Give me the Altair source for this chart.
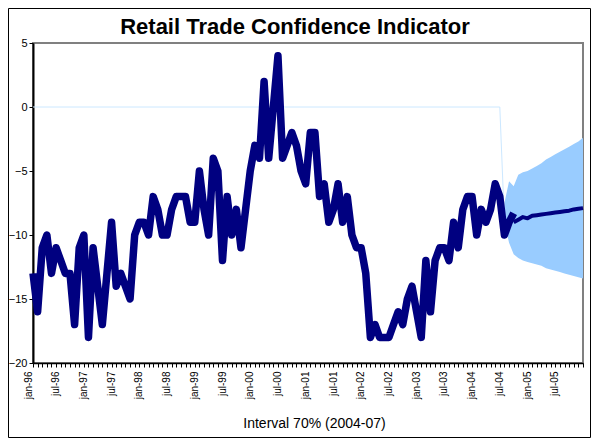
import altair as alt
import pandas as pd

# ---- data (month index 0 = jan-96) ----
main_values = [
    -13, -16, -11, -10, -13, -11, -12, -13, -13, -17, -11, -10,   # 1996
    -18, -11, -14, -17, -13, -9, -14, -13, -14, -15, -10, -9,     # 1997
    -9, -10, -7, -8, -10, -10, -8, -7, -7, -7, -9, -9,            # 1998
    -5, -8, -10, -4, -5, -12, -7, -10, -8, -11, -8, -5,           # 1999
    -3, -4, 2, -4, 0, 4, -4, -3, -2, -3, -5, -6,                  # 2000
    -2, -2, -7, -6, -9, -8, -6, -9, -7, -10, -11, -11,            # 2001
    -13, -18, -17, -18, -18, -18, -17, -16, -17, -15, -14, -16,   # 2002
    -18, -12, -16, -12, -11, -11, -12, -9, -11, -8, -7, -7,       # 2003
    -10, -8, -9, -8, -6, -7, -10, -9, -8.3,                       # 2004 (to aug)
]
forecast_start = 104
forecast_values = [-9.0, -8.8, -8.6, -8.7, -8.5, -8.45, -8.4, -8.35,
                   -8.3, -8.25, -8.2, -8.15, -8.1, -8.0, -7.95, -7.9]
band_start = 102
band_upper = [-7.5, -5.8, -6.2, -5.3, -5.1, -5.0, -4.8, -4.6, -4.4,
              -4.1, -3.9, -3.7, -3.5, -3.3, -3.1, -2.9, -2.7, -2.4]
band_lower = [-9.0, -10.6, -11.5, -11.8, -12.0, -12.1, -12.2, -12.3, -12.4,
              -12.6, -12.7, -12.8, -12.9, -13.0, -13.1, -13.2, -13.3, -13.4]
ref_line_x = [0, 101, 102]
ref_line_y = [0, 0, -9]
tick_labels = ["jan-96", "jul-96", "jan-97", "jul-97", "jan-98", "jul-98",
               "jan-99", "jul-99", "jan-00", "jul-00", "jan-01", "jul-01",
               "jan-02", "jul-02", "jan-03", "jul-03", "jan-04", "jul-04",
               "jan-05", "jul-05"]
n_months = 120
y_ticks = [-20, -15, -10, -5, 0, 5]

# ---- tables ----
main_df = pd.DataFrame({"month": list(range(len(main_values))), "value": main_values})
fc_df = pd.DataFrame({"month": [forecast_start + i for i in range(len(forecast_values))],
                      "value": forecast_values})
band_df = pd.DataFrame({"month": [band_start + i for i in range(len(band_upper))],
                        "value": band_upper, "lower": band_lower})
ref_df = pd.DataFrame({"month": ref_line_x, "value": ref_line_y})
frame_df = pd.DataFrame({"frame": [1]})

FONT = "Liberation Sans"
label_js = "[" + ",".join("'" + t + "'" for t in tick_labels) + "]"
label_expr = "datum.value % 6 == 0 ? " + label_js + "[datum.value / 6] : ''"

xscale = alt.Scale(domain=[0, n_months - 1], nice=False, zero=False)
yscale = alt.Scale(domain=[-20, 5], nice=False, zero=False)

x_axis = alt.Axis(
    values=list(range(n_months)),
    labelExpr=label_expr,
    labelAngle=270, labelFontSize=10, labelFont=FONT, labelColor="black",
    labelAlign="right", labelBaseline="middle", labelOffset=-5, labelPadding=4,
    labelOverlap=False, labelFlush=False, labelBound=False,
    tickSize=4, tickColor="black", domainColor="black", domainWidth=1.5,
    grid=False, title="Interval 70% (2004-07)", titleFont=FONT, titleFontSize=14,
    titleFontWeight="normal", titleColor="black", titlePadding=18, titleX=281,
)
y_axis = alt.Axis(
    values=y_ticks, labelFontSize=11, labelFont=FONT, labelColor="black",
    labelPadding=2, tickSize=4, tickColor="black", domainColor="black",
    domainWidth=2, grid=False, title=None,
)

X = alt.X("month:Q", scale=xscale, axis=x_axis)
Y = alt.Y("value:Q", scale=yscale, axis=y_axis)

band = alt.Chart(band_df).mark_area(color="#99CCFF", opacity=1).encode(
    x=X, y=Y, y2="lower:Q",
)
ref = alt.Chart(ref_df).mark_line(color="#CCE8FF", strokeWidth=1).encode(x=X, y=Y)
main = alt.Chart(main_df).mark_line(color="#000080", strokeWidth=7.5,
                                     strokeJoin="round").encode(x=X, y=Y)
fc = alt.Chart(fc_df).mark_line(color="#000080", strokeWidth=4,
                                 strokeJoin="round").encode(x=X, y=Y)
# outer chart frame (decoration)
frame = alt.Chart(frame_df).mark_rect(filled=False, stroke="black",
                                       strokeWidth=1).encode(
    x=alt.value(-24.5), x2=alt.value(557.5),
    y=alt.value(-34.5), y2=alt.value(394.5),
)

chart = alt.layer(band, ref, main, fc, frame).properties(
    width=550, height=320,
    padding={"left": 25, "top": 35, "right": 8, "bottom": 75},
    autosize=alt.AutoSizeParams(type="none"),
    background="white",
    title=alt.TitleParams("Retail Trade Confidence Indicator", font=FONT,
                          fontSize=22, fontWeight="bold", color="black",
                          anchor="middle", dx=-13, dy=56, offset=8,
                          baseline="alphabetic"),
).configure_view(stroke="#808080", strokeWidth=2)

chart.save("out.html", embed_options={"renderer": "svg", "actions": False})
